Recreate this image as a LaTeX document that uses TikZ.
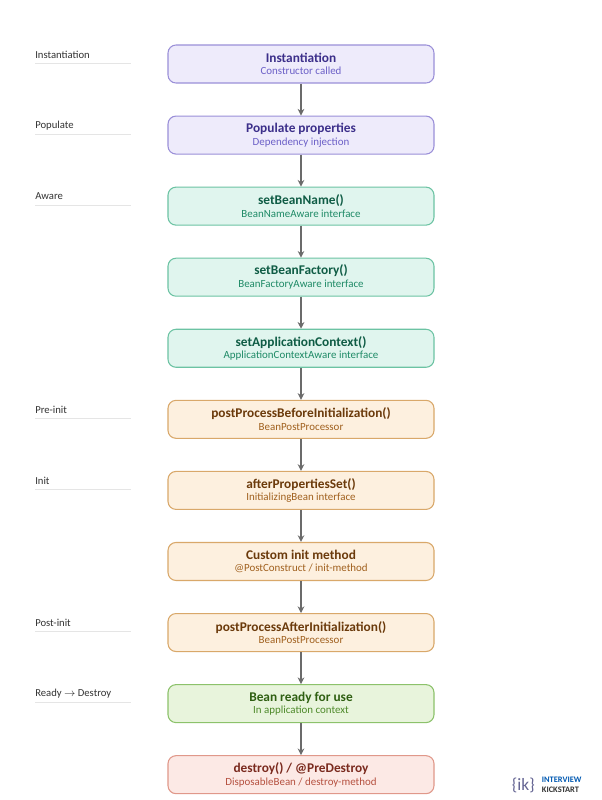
\documentclass[tikz,border=0pt]{standalone}
\usepackage{fontspec}
\setmainfont{Carlito}
\usepackage{tikz}
\usetikzlibrary{arrows.meta,positioning}

\definecolor{pufill}{HTML}{EEEBFB}\definecolor{pudraw}{HTML}{9A8FD8}
\definecolor{putext}{HTML}{3C2F8A}\definecolor{pusub}{HTML}{6B5FC7}
\definecolor{tefill}{HTML}{E0F5EE}\definecolor{tedraw}{HTML}{6CC3A3}
\definecolor{tetext}{HTML}{0F5C45}\definecolor{tesub}{HTML}{1E8A66}
\definecolor{orfill}{HTML}{FDF0DF}\definecolor{ordraw}{HTML}{D9A86A}
\definecolor{ortext}{HTML}{6B3A0B}\definecolor{orsub}{HTML}{A0601E}
\definecolor{grfill}{HTML}{E8F4DC}\definecolor{grdraw}{HTML}{8CC26B}
\definecolor{grtext}{HTML}{2F5F12}\definecolor{grsub}{HTML}{4E8A2A}
\definecolor{rdfill}{HTML}{FCE9E5}\definecolor{rddraw}{HTML}{E0988A}
\definecolor{rdtext}{HTML}{7A2A1E}\definecolor{rdsub}{HTML}{B5503F}

\newcommand{\subline}[2]{{\fontsize{8.2}{9}\selectfont\mdseries\color{#1}#2}}

\begin{document}
\begin{tikzpicture}[
    x=0.75pt, y=-0.75pt,
    node distance=24pt,
    >=Stealth,
    step/.style n args={3}{
        rectangle,
        rounded corners=6pt,
        draw=#2,
        fill=#1,
        line width=0.8pt,
        minimum width=199.5pt,
        minimum height=28.5pt,
        align=center,
        inner xsep=2pt,
        inner ysep=1pt,
        text=#3,
        font=\fontsize{10}{11}\selectfont\bfseries
    },
    stage/.style={anchor=west, font=\fontsize{8}{9}\selectfont, text=black!80, inner sep=0pt},
    rule/.style={draw=black!10, line width=0.6pt},
    flow/.style={-{Stealth[length=5pt, width=5pt]}, draw=black!58, line width=1.2pt},
    logo/.style={anchor=west, inner sep=0pt, font=\fontsize{6.3}{6.3}\selectfont\bfseries}
]

\fill[white] (0,0) rectangle (602,800);

% lifecycle boxes
\node[step={pufill}{pudraw}{putext}] (inst) at (301,64)
    {Instantiation\\[-1.5pt]\subline{pusub}{Constructor called}};
\node[step={pufill}{pudraw}{putext}, below=of inst] (pop)
    {Populate properties\\[-1.5pt]\subline{pusub}{Dependency injection}};
\node[step={tefill}{tedraw}{tetext}, below=of pop] (name)
    {setBeanName()\\[-1.5pt]\subline{tesub}{BeanNameAware interface}};
\node[step={tefill}{tedraw}{tetext}, below=of name] (fact)
    {setBeanFactory()\\[-1.5pt]\subline{tesub}{BeanFactoryAware interface}};
\node[step={tefill}{tedraw}{tetext}, below=of fact] (ctx)
    {setApplicationContext()\\[-1.5pt]\subline{tesub}{ApplicationContextAware interface}};
\node[step={orfill}{ordraw}{ortext}, below=of ctx] (before)
    {postProcessBeforeInitialization()\\[-1.5pt]\subline{orsub}{BeanPostProcessor}};
\node[step={orfill}{ordraw}{ortext}, below=of before] (props)
    {afterPropertiesSet()\\[-1.5pt]\subline{orsub}{InitializingBean interface}};
\node[step={orfill}{ordraw}{ortext}, below=of props] (custom)
    {Custom init method\\[-1.5pt]\subline{orsub}{@PostConstruct / init-method}};
\node[step={orfill}{ordraw}{ortext}, below=of custom] (after)
    {postProcessAfterInitialization()\\[-1.5pt]\subline{orsub}{BeanPostProcessor}};
\node[step={grfill}{grdraw}{grtext}, below=of after] (ready)
    {Bean ready for use\\[-1.5pt]\subline{grsub}{In application context}};
\node[step={rdfill}{rddraw}{rdtext}, below=of ready] (destroy)
    {destroy() / @PreDestroy\\[-1.5pt]\subline{rdsub}{DisposableBean / destroy-method}};

% arrows
\foreach \a/\b in {inst/pop, pop/name, name/fact, fact/ctx, ctx/before,
                   before/props, props/custom, custom/after, after/ready, ready/destroy}
    \draw[flow] (\a) -- (\b);

% phase labels
\coordinate (lx) at (35,0);
\foreach \n/\t in {inst/Instantiation, pop/Populate, name/Aware, before/Pre-init,
                   props/Init, after/Post-init, ready/{Ready $\rightarrow$ Destroy}} {
    \node[stage, yshift=-7.5pt] (l\n) at (\n.north -| lx) {\t};
    \draw[rule] ([yshift=-14pt]\n.north -| lx) -- ++(96,0);
}

% logo
\node[anchor=east, inner sep=0pt, text=black!70!blue!60, font=\fontsize{13}{13}\selectfont]
    (ik) at (535,785) {\{ik\}};
\node[logo, text=blue!50!cyan!70!black] (iv) at ([xshift=5pt, yshift=3.8pt]ik.east) {INTERVIEW};
\node[logo, text=black!80] (kick) at ([xshift=5pt, yshift=-3.8pt]ik.east) {KICKSTART};
\end{tikzpicture}
\end{document}
